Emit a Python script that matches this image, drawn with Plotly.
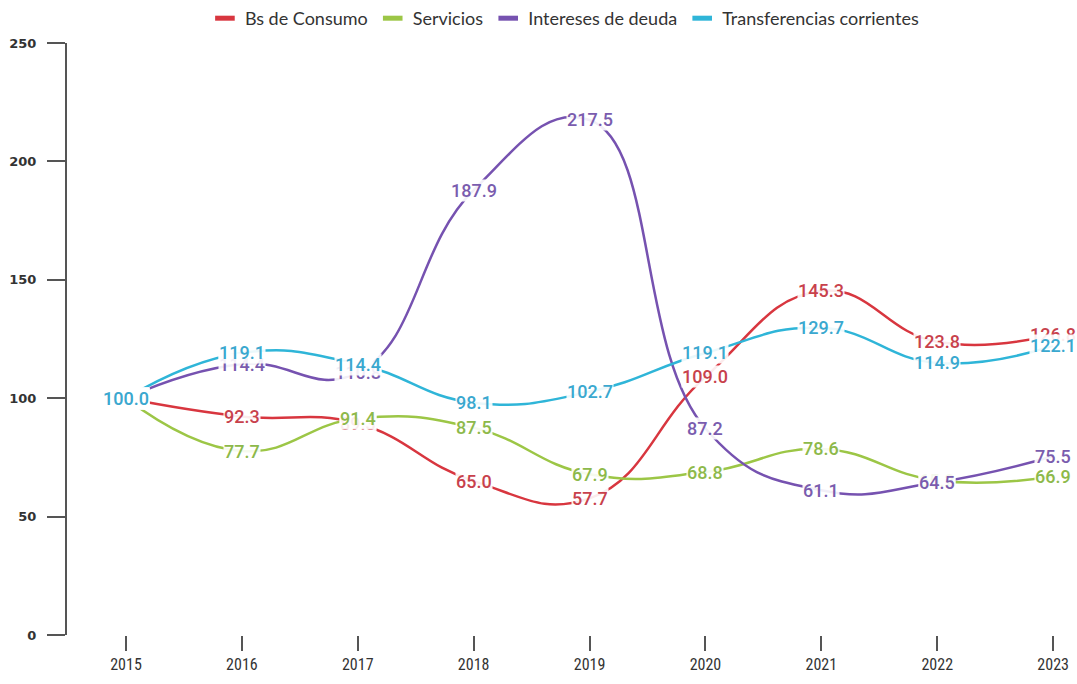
import plotly.graph_objects as go

years = ["2015", "2016", "2017", "2018", "2019", "2020", "2021", "2022", "2023"]

consumo = [100.0, 92.3, 89.3, 65.0, 57.7, 109.0, 145.3, 123.8, 126.8]
servicios = [100.0, 77.7, 91.4, 87.5, 67.9, 68.8, 78.6, 65.2, 66.9]
intereses = [100.0, 114.4, 110.8, 187.9, 217.5, 87.2, 61.1, 64.5, 75.5]
transferencias = [100.0, 119.1, 114.4, 98.1, 102.7, 119.1, 129.7, 114.9, 122.1]

series = [
    ("Bs de Consumo", consumo, "#d8363f", "#c8414c"),
    ("Servicios", servicios, "#9cc646", "#8db94a"),
    ("Intereses de deuda", intereses, "#7652b0", "#7a5cae"),
    ("Transferencias corrientes", transferencias, "#2fb5d8", "#3aa8cf"),
]

y_ticks = [0, 50, 100, 150, 200, 250]

fig = go.Figure()

# smooth lines (no legend entries; legend uses short dash markers below)
for name, vals, line_col, _ in series:
    fig.add_trace(go.Scatter(
        x=list(range(len(years))), y=vals, mode="lines",
        line=dict(color=line_col, width=2.5, shape="spline", smoothing=1.3),
        showlegend=False, hoverinfo="skip",
    ))

# legend entries drawn as short thick dashes
for name, vals, line_col, _ in series:
    fig.add_trace(go.Scatter(
        x=[None], y=[None], mode="markers", name=name,
        marker=dict(symbol="line-ew-open", size=14, color=line_col,
                    line=dict(color=line_col, width=5)),
    ))

# value labels on a white backing so lines stop at their edges
annotations = []
for name, vals, _, txt_col in series:
    for i, v in enumerate(vals):
        annotations.append(dict(
            x=i, y=v, xref="x", yref="y", text=f"{v:.1f}",
            showarrow=False, xanchor="center", yanchor="middle",
            font=dict(family="Roboto, Open Sans, sans-serif", size=18,
                      color=txt_col, weight=500),
            bgcolor="rgba(255,255,255,0.9)", borderpad=0,
        ))

fig.update_layout(
    width=1077, height=684,
    margin=dict(l=67, r=0, t=42, b=49),
    paper_bgcolor="white", plot_bgcolor="white",
    annotations=annotations,
    showlegend=True,
    legend=dict(
        orientation="h", x=0.493, xanchor="center", y=1.042, yanchor="middle",
        font=dict(family="Lato, Open Sans, sans-serif", size=18, color="#333333"),
        itemwidth=30, traceorder="normal",
        bgcolor="rgba(0,0,0,0)",
    ),
    xaxis=dict(
        range=[-0.509, 8.206],
        tickmode="array", tickvals=list(range(len(years))), ticktext=years,
        showline=False, showgrid=False, zeroline=False,
        ticks="outside", ticklen=15, tickwidth=2, tickcolor="#555555",
        tickfont=dict(family="Liberation Sans Narrow, Roboto Condensed, DejaVu Sans Condensed, Arial, sans-serif",
                      size=16, color="#333333"),
    ),
    yaxis=dict(
        range=[0, 250],
        tickmode="array", tickvals=y_ticks,
        showline=True, linecolor="#555555", linewidth=2,
        showgrid=False, zeroline=False,
        ticks="outside", ticklen=18, tickwidth=2, tickcolor="#555555",
        ticklabelstandoff=8,
        tickfont=dict(family="DejaVu Sans", size=13, color="#333333", weight="bold"),
    ),
)

fig.write_html("out.html")
